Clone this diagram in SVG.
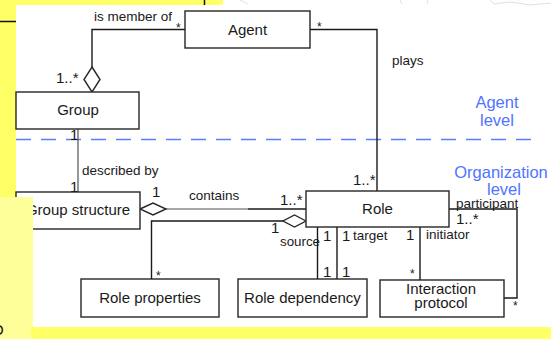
<svg xmlns="http://www.w3.org/2000/svg" width="551" height="339" viewBox="0 0 551 339">
  <style>
    .box { fill: #ffffff; stroke: #262626; stroke-width: 1.4; }
    .name { font-family: "Liberation Sans", Arial, sans-serif; font-size: 15px; fill: #1a1a1a; text-anchor: middle; }
    .lbl { font-family: "Liberation Sans", Arial, sans-serif; font-size: 13.5px; fill: #1a1a1a; }
    .mul { font-family: "Liberation Sans", Arial, sans-serif; font-size: 15px; fill: #1a1a1a; }
    .star { font-family: "Liberation Sans", Arial, sans-serif; font-size: 12px; fill: #1a1a1a; }
    .lvl { font-family: "Liberation Sans", Arial, sans-serif; font-size: 16.5px; fill: #4f74ff; text-anchor: middle; }
    .ln { fill: none; stroke: #1a1a1a; stroke-width: 1.4; }
    .dia { fill: #ffffff; stroke: #262626; stroke-width: 1.4; }
  </style>

  <!-- page background -->
  <rect x="0" y="0" width="551" height="339" fill="#ffffff"/>
  <rect x="0" y="0" width="223" height="5" fill="#ffff66"/>
  <rect x="0" y="0" width="16" height="197" fill="#ffff66"/>
  <line x1="0" y1="21.5" x2="16" y2="21.5" stroke="#111" stroke-width="1.5"/>
  <line x1="204.5" y1="0" x2="204.5" y2="5" stroke="#111" stroke-width="1.5"/>
  <g stroke="#d8d8d8" stroke-width="0.8" fill="none">
    <path d="M240 0 L248 4"/>
    <path d="M400 0 L402 4"/>
    <path d="M428 0 L427 4"/>
    <path d="M490 0 L494 4 L510 2 L530 5 L551 3"/>
  </g>

  <!-- level separator -->
  <line x1="16" y1="139.5" x2="537" y2="139.5" stroke="#5a7dff" stroke-width="1.5" stroke-dasharray="15 10"/>
  <text class="lvl" x="497" y="108">Agent</text>
  <text class="lvl" x="497" y="126">level</text>
  <text class="lvl" x="501" y="178">Organization</text>
  <text class="lvl" x="504" y="195">level</text>

  <!-- connectors -->
  <g id="connectors">
    <!-- is member of -->
    <polyline class="ln" points="185,29.5 92,29.5 92,67"/>
    <polygon class="dia" points="92,67 100,79.5 92,92 84,79.5"/>
    <!-- plays -->
    <polyline class="ln" points="310,29.5 377,29.5 377,191"/>
    <!-- described by -->
    <line x1="78" y1="129" x2="78" y2="192" stroke="#6a6a6a" stroke-width="1.4"/>
    <!-- contains -->
    <line x1="166" y1="209" x2="248" y2="209" stroke="#8a8a8a" stroke-width="1.4"/>
    <line class="ln" x1="248" y1="209" x2="306" y2="209"/>
    <polygon class="dia" points="140,209 153,203 166,209 153,215"/>
    <!-- role properties -->
    <polyline class="ln" points="283,221 151.5,221 151.5,279"/>
    <polygon class="dia" points="306,221 294.5,215 283,221 294.5,227"/>
    <!-- role dependency -->
    <line class="ln" x1="317.5" y1="227" x2="317.5" y2="279"/>
    <line class="ln" x1="337" y1="227" x2="337" y2="279"/>
    <!-- initiator -->
    <line class="ln" x1="420" y1="227" x2="420" y2="280"/>
    <!-- participant -->
    <polyline class="ln" points="449,209 517,209 517,298 504,298"/>
  </g>

  <!-- connector labels -->
  <g id="labels">
    <text class="lbl" x="94" y="21">is member of</text>
    <text class="star" x="176" y="32">*</text>
    <text class="mul" x="56" y="83">1..*</text>
    <text class="star" x="317" y="31">*</text>
    <text class="lbl" x="392" y="65">plays</text>
    <text class="mul" x="353" y="185">1..*</text>
    <text class="mul" x="70" y="140">1</text>
    <text class="lbl" x="82" y="175">described by</text>
    <text class="mul" x="70" y="192">1</text>
    <text class="mul" x="152" y="197">1</text>
    <text class="lbl" x="189" y="200">contains</text>
    <text class="mul" x="280" y="205">1..*</text>
    <text class="mul" x="271" y="233">1</text>
    <text class="lbl" x="280" y="246" font-size="12.5" textLength="40" lengthAdjust="spacingAndGlyphs">source</text>
    <text class="mul" x="323" y="241">1</text>
    <text class="mul" x="342" y="241">1</text>
    <text class="lbl" x="353" y="240">target</text>
    <text class="mul" x="323" y="277">1</text>
    <text class="mul" x="342" y="277">1</text>
    <text class="mul" x="406" y="240">1</text>
    <text class="lbl" x="426" y="239">initiator</text>
    <text class="star" x="410" y="278">*</text>
    <text class="lbl" x="456" y="207.5">participant</text>
    <text class="mul" x="456" y="224">1..*</text>
    <text class="star" x="513" y="310">*</text>
    <text class="star" x="156" y="280">*</text>
  </g>

  <!-- nodes -->
  <g id="agent">
    <rect class="box" x="185" y="11" width="125" height="37"/>
    <text class="name" x="247.5" y="34.5">Agent</text>
  </g>
  <g id="group">
    <rect class="box" x="16" y="92" width="123" height="37"/>
    <text class="name" x="78" y="115">Group</text>
  </g>
  <g id="group-structure">
    <rect class="box" x="16" y="192" width="124" height="37"/>
    <text class="name" x="78" y="215">Group structure</text>
  </g>
  <g id="role">
    <rect class="box" x="306" y="191" width="143" height="36"/>
    <text class="name" x="377.5" y="214">Role</text>
  </g>
  <g id="role-properties">
    <rect class="box" x="81" y="279" width="138" height="38"/>
    <text class="name" x="150" y="303">Role properties</text>
  </g>
  <g id="role-dependency">
    <rect class="box" x="238" y="279" width="129" height="38"/>
    <text class="name" x="302.5" y="303">Role dependency</text>
  </g>
  <g id="interaction-protocol">
    <rect class="box" x="380" y="280" width="124" height="37"/>
    <text class="name" x="441" y="294" font-size="14.5">Interaction</text>
    <text class="name" x="441" y="308" font-size="14.5">protocol</text>
  </g>

  <!-- overlapping page panels -->
  <rect x="0" y="197" width="33" height="142" fill="#ffff99"/>
  <rect x="31" y="327" width="520" height="12" fill="#ffff66"/>
  <text x="-8" y="335" font-family="Liberation Sans, Arial, sans-serif" font-size="15" fill="#111">O</text>
</svg>
